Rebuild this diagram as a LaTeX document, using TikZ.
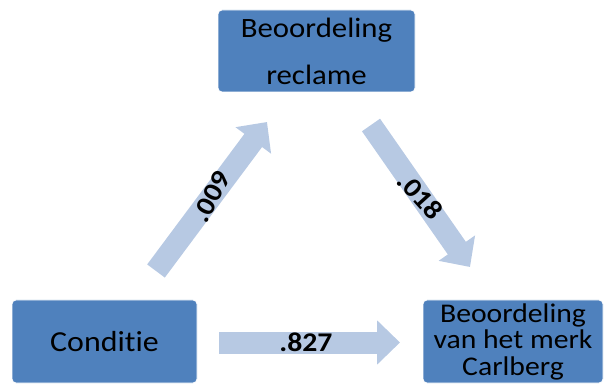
\documentclass[tikz,border=0pt]{standalone}
\usepackage{fontspec}
\setmainfont[FakeStretch=1.1,Ligatures={NoCommon}]{Carlito}
\usetikzlibrary{arrows.meta}
\definecolor{boxblue}{RGB}{79,129,189}
\definecolor{arrowblue}{RGB}{183,201,227}
\begin{document}
\begin{tikzpicture}[x=1pt,y=-1pt,
  box/.style={fill=boxblue,draw=white,line width=0.8pt,rounded corners=4pt,inner sep=0pt,align=center,text=black},
  bigarrow/.style={draw=arrowblue,line width=22pt,-{Triangle[width=43pt,length=23pt]}},
  coef/.style={font=\bfseries\fontsize{27}{27}\selectfont,text=black,inner sep=0pt}]
\useasboundingbox (0,0) rectangle (606,385);
\node[box,minimum width=197pt,minimum height=82pt,font=\fontsize{28}{47}\selectfont] (rec) at (316.5,51) {Beoordeling\\reclame};
\node[box,minimum width=185pt,minimum height=83pt,font=\fontsize{29}{30}\selectfont] (cond) at (104.5,341.5) {Conditie};
\node[box,minimum width=180pt,minimum height=83pt,font=\fontsize{27}{26.5}\selectfont] (merk) at (513,341.5) {Beoordeling\\van het merk\\Carlberg};
\coordinate (a1s) at (156,271);
\coordinate (a1e) at (267,122);
\coordinate (a2s) at (371,125);
\coordinate (a2e) at (470,267);
\coordinate (a3s) at (219,342.5);
\coordinate (a3e) at (400,342.5);
\draw[bigarrow] (a1s) -- (a1e) node[coef,midway,rotate=62] {.009};
\draw[bigarrow] (a2s) -- (a2e) node[coef,midway,rotate=-48] {.018};
\draw[bigarrow] (a3s) -- (a3e) node[coef,pos=0.48] {.827};
\end{tikzpicture}
\end{document}
